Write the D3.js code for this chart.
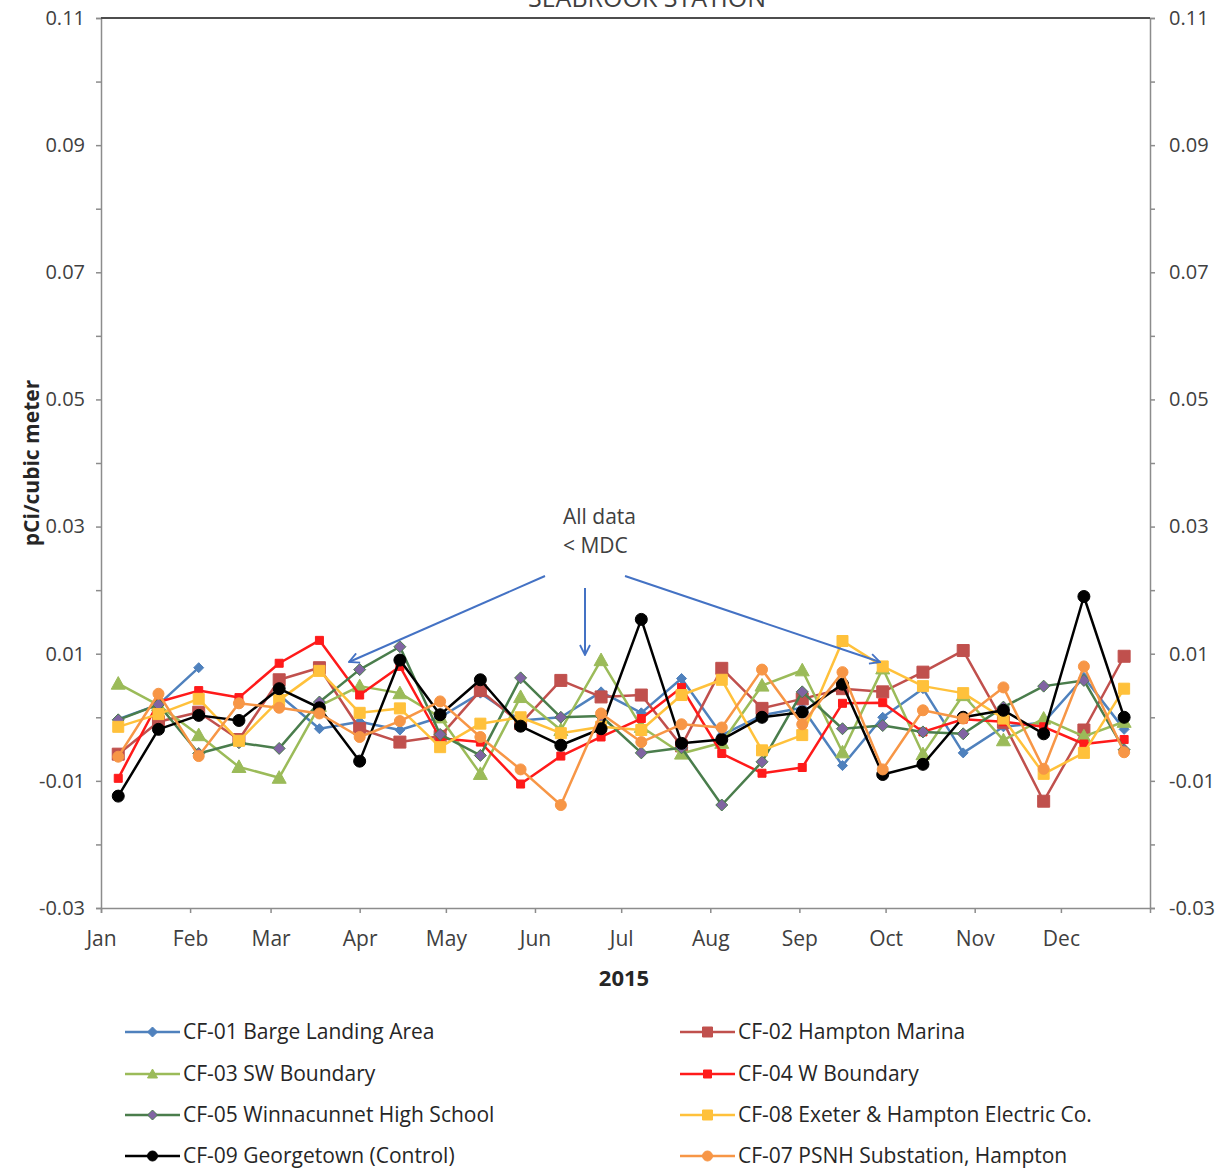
<!DOCTYPE html>
<html>
<head>
<meta charset="utf-8">
<script src="https://cdn.jsdelivr.net/npm/d3@7"></script>
<style>
	body { margin: 0; background: #fff; }
	svg text { font-family: "Open Sans", sans-serif; }
</style>
</head>
<body>
<main></main>
<script>
// sample dates: every two weeks from Jan 7, 2015
const sampleDates = d3.range(26).map((i)=> d3.timeDay.offset(new Date(2015, 0, 7), i*14));

const cf01 = [-0.0003, 0.002, 0.0078, null, 0.0035, -0.0018, -0.0007, -0.002, 0.0, 0.0038, -0.0005, 0.0, 0.004,
	0.0007, 0.0061, -0.0028, 0.0003, 0.0015, -0.0076, 0.0, 0.0045, -0.0056, -0.0015, -0.0008, 0.0063, -0.0019];
const cf02 = [-0.0058, -0.0007, 0.0008, -0.0035, 0.0059, 0.0078, -0.0018, -0.0039, -0.003, 0.0042, -0.001, 0.0058, 0.0032,
	0.0035, -0.0045, 0.0077, 0.0014, 0.0029, 0.0045, 0.004, 0.0071, 0.0105, -0.0008, -0.0132, -0.002, 0.0096];
const cf03 = [0.0053, 0.0019, -0.0028, -0.0078, -0.0095, 0.0018, 0.0049, 0.0038, 0.0, -0.0089, 0.0032, -0.002, 0.009,
	-0.0015, -0.0057, -0.004, 0.005, 0.0074, -0.0055, 0.0077, -0.0058, 0.0035, -0.0036, -0.0002, -0.003, -0.0007];
const cf04 = [-0.0096, 0.0024, 0.0042, 0.0031, 0.0085, 0.0121, 0.0035, 0.008, -0.0033, -0.0039, -0.0105, -0.0061, -0.0031,
	-0.0002, 0.0047, -0.0057, -0.0088, -0.0079, 0.0022, 0.0023, -0.0023, -0.0003, -0.0007, -0.0015, -0.0042, -0.0035];
const cf05 = [-0.0004, 0.002, -0.0057, -0.004, -0.0049, 0.0024, 0.0075, 0.0111, -0.0027, -0.006, 0.0062, 0.0, 0.0002,
	-0.0056, -0.0048, -0.0138, -0.007, 0.004, -0.0018, -0.0013, -0.0023, -0.0026, 0.0016, 0.0049, 0.0058, -0.0051];
const cf08 = [-0.0015, 0.0005, 0.0029, -0.0037, 0.0027, 0.0073, 0.0007, 0.0014, -0.0047, -0.001, 0.0, -0.0025, -0.0015,
	-0.002, 0.0035, 0.0059, -0.0052, -0.0028, 0.012, 0.008, 0.0049, 0.0038, -0.0002, -0.0089, -0.0056, 0.0045];
const cf09 = [-0.0124, -0.0019, 0.0003, -0.0005, 0.0045, 0.0015, -0.0069, 0.009, 0.0004, 0.0059, -0.0014, -0.0044, -0.0018,
	0.0154, -0.0041, -0.0035, 0.0, 0.0008, 0.0052, -0.009, -0.0074, 0.0, 0.0011, -0.0026, 0.019, 0.0];
const cf07 = [-0.0062, 0.0037, -0.0061, 0.0022, 0.0015, 0.0006, -0.0031, -0.0006, 0.0025, -0.0031, -0.0082, -0.0138, 0.0006,
	-0.0039, -0.0011, -0.0016, 0.0075, -0.0011, 0.0071, -0.0082, 0.0011, -0.0002, 0.0047, -0.0081, 0.008, -0.0055];

const seriesNames = ["CF-01 Barge Landing Area", "CF-02 Hampton Marina", "CF-03 SW Boundary", "CF-04 W Boundary",
	"CF-05 Winnacunnet High School", "CF-08 Exeter & Hampton Electric Co.", "CF-09 Georgetown (Control)", "CF-07 PSNH Substation, Hampton"];
const seriesValues = [cf01, cf02, cf03, cf04, cf05, cf08, cf09, cf07];

const yTicks = d3.range(-0.03, 0.1101, 0.01);
const yLabels = [-0.03, -0.01, 0.01, 0.03, 0.05, 0.07, 0.09, 0.11];
const monthTicks = d3.timeMonth.range(new Date(2015, 0, 1), new Date(2016, 0, 1));

const titleText = "SEABROOK STATION";
const xTitle = "2015";
const yTitle = "pCi/cubic meter";
const noteLines = ["All data", "< MDC"];

// look of each series: line colour, marker shape, marker fill, marker size
const styles = [
	{line:"#4F81BD", shape:"diamond", fill:"#4F81BD", r:5},
	{line:"#C0504D", shape:"square", fill:"#C0504D", r:6},
	{line:"#9BBB59", shape:"triangle", fill:"#9BBB59", r:7},
	{line:"#FF1A1A", shape:"square", fill:"#FF1A1A", r:4},
	{line:"#4A7D4C", shape:"diamond", fill:"#8064A2", r:6},
	{line:"#FFC13B", shape:"square", fill:"#FFC13B", r:5.5},
	{line:"#000000", shape:"circle", fill:"#000000", r:6},
	{line:"#F79646", shape:"circle", fill:"#F79646", r:5.5}
];

const w = 1231, h = 1172,
	padL = 101, padR = 1150, padT = 18, padB = 908;

const svg = d3.select("main").append("svg")
	.attr("width", w)
	.attr("height", h);

const xScale = d3.scaleTime()
	.domain([new Date(2015, 0, 1), new Date(2016, 0, 1)])
	.range([padL, padR]);
const yScale = d3.scaleLinear()
	.domain([-0.03, 0.11])
	.range([padB, padT]);

const fmt = (d)=> d.toFixed(2);

function marker(g, st, x, y) {
	const r = st.r;
	if (st.shape=="circle") {
		g.append("circle").attr("cx", x).attr("cy", y).attr("r", r)
			.attr("fill", st.fill).attr("stroke", st.line).attr("stroke-width", 1);
	} else {
		let p;
		if (st.shape=="square") p = `M${x-r},${y-r}h${2*r}v${2*r}h${-2*r}Z`;
		else if (st.shape=="diamond") p = `M${x},${y-r}L${x+r},${y}L${x},${y+r}L${x-r},${y}Z`;
		else p = `M${x},${y-r}L${x+r},${y+r*0.8}L${x-r},${y+r*0.8}Z`;
		g.append("path").attr("d", p).attr("fill", st.fill)
			.attr("stroke", st.line).attr("stroke-width", 1);
	}
}

// axes
const yLeft = d3.axisLeft(yScale).tickValues(yTicks).tickSize(5)
	.tickFormat((d)=> yLabels.some((v)=> Math.abs(v-d)<1e-6) ? fmt(d) : "");
const yRight = d3.axisRight(yScale).tickValues(yTicks).tickSize(5)
	.tickFormat((d)=> yLabels.some((v)=> Math.abs(v-d)<1e-6) ? fmt(d) : "");
const xAxis = d3.axisBottom(xScale).tickValues(monthTicks).tickSize(5)
	.tickFormat(d3.timeFormat("%b"));

function styleAxis(g, size) {
	g.select(".domain").attr("stroke", "#8c8c8c").attr("stroke-width", 1.5);
	g.selectAll(".tick line").attr("stroke", "#8c8c8c").attr("stroke-width", 1.5);
	g.selectAll("text").attr("fill", "#404040").style("font-size", size);
}

svg.append("g").attr("transform", `translate(${padL},0)`).call(yLeft).call(styleAxis, "20px")
	.selectAll("text").attr("x", -16);
svg.append("g").attr("transform", `translate(${padR},0)`).call(yRight).call(styleAxis, "20px")
	.selectAll("text").attr("x", 19);
svg.append("g").attr("transform", `translate(0,${padB})`).call(xAxis).call(styleAxis, "21px")
	.selectAll("text").attr("y", 23);

// top border
svg.append("line")
	.attr("x1", padL).attr("x2", padR)
	.attr("y1", padT).attr("y2", padT)
	.attr("stroke", "#4d4d4d").attr("stroke-width", 2);

// series
const line = d3.line()
	.defined((d)=> d.v!=null)
	.x((d)=> xScale(d.date))
	.y((d)=> yScale(d.v));

seriesValues.forEach((vals, i)=> {
	const pts = vals.map((v, j)=> ({date: sampleDates[j], v: v}));
	const st = styles[i];
	const g = svg.append("g");
	g.append("path")
		.datum(pts)
		.attr("d", line)
		.attr("fill", "none")
		.attr("stroke", st.line)
		.attr("stroke-width", 2.5)
		.attr("stroke-linejoin", "round");
	pts.filter((d)=> d.v!=null).forEach((d)=> marker(g, st, xScale(d.date), yScale(d.v)));
});

// title (cut off at the top edge, as in the source)
svg.append("text")
	.attr("x", 647).attr("y", 7)
	.attr("text-anchor", "middle")
	.attr("fill", "#404040")
	.style("font-size", "25px")
	.text(titleText);

// axis titles
svg.append("text")
	.attr("x", 624).attr("y", 986)
	.attr("text-anchor", "middle")
	.attr("fill", "#262626")
	.style("font-size", "22px").style("font-weight", "bold")
	.text(xTitle);
svg.append("text")
	.attr("transform", "translate(39,"+((padT+padB)/2)+") rotate(-90)")
	.attr("text-anchor", "middle")
	.attr("fill", "#262626")
	.style("font-size", "21px").style("font-weight", "bold")
	.text(yTitle);

// note with arrows
svg.append("defs").append("marker")
	.attr("id", "arrow")
	.attr("viewBox", "0 0 12 12")
	.attr("refX", 11).attr("refY", 6)
	.attr("markerWidth", 12).attr("markerHeight", 12)
	.attr("markerUnits", "userSpaceOnUse")
	.attr("orient", "auto")
	.append("path")
	.attr("d", "M1,1L11,6L1,11")
	.attr("fill", "none")
	.attr("stroke", "#4472C4")
	.attr("stroke-width", 1.8);

noteLines.forEach((t, i)=> {
	svg.append("text")
		.attr("x", 563).attr("y", 524+i*29)
		.attr("fill", "#404040")
		.style("font-size", "21px")
		.text(t);
});
const arrows = [[545, 576, 349, 662], [585, 588, 585, 655], [625, 576, 880, 662]];
arrows.forEach((a)=> {
	svg.append("line")
		.attr("x1", a[0]).attr("y1", a[1])
		.attr("x2", a[2]).attr("y2", a[3])
		.attr("stroke", "#4472C4")
		.attr("stroke-width", 2)
		.attr("marker-end", "url(#arrow)");
});

// legend
const legX = [125, 680], legY = [1032, 1074, 1115, 1156];
seriesNames.forEach((name, i)=> {
	const x = legX[i%2], y = legY[Math.floor(i/2)];
	const st = styles[i];
	const g = svg.append("g");
	g.append("line")
		.attr("x1", x).attr("x2", x+55)
		.attr("y1", y).attr("y2", y)
		.attr("stroke", st.line).attr("stroke-width", 2.5);
	marker(g, {...st, r: Math.min(st.r, 5)}, x+27.5, y);
	g.append("text")
		.attr("x", x+58).attr("y", y)
		.attr("dy", "0.35em")
		.attr("fill", "#262626")
		.style("font-size", "21px")
		.text(name);
});
</script>
</body>
</html>
